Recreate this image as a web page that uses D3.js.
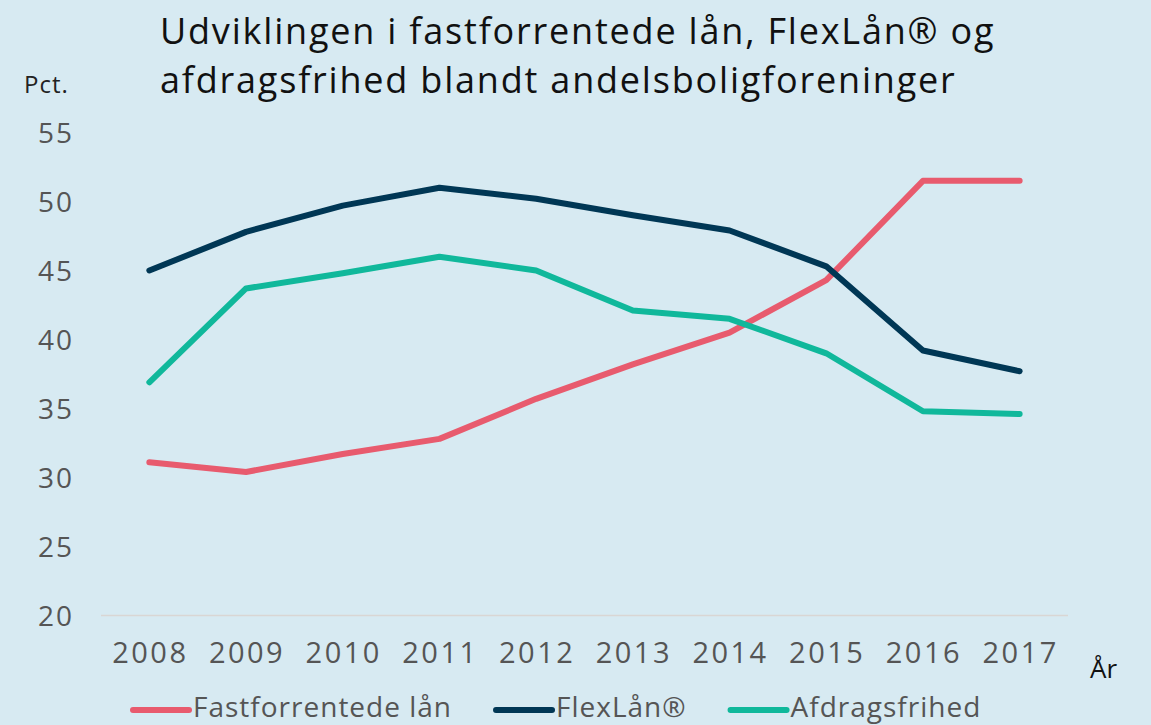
<!DOCTYPE html>
<html>
<head>
<meta charset="utf-8">
<script src="https://cdn.jsdelivr.net/npm/d3@7"></script>
<style>
  body { margin: 0; background: #d7eaf2; }
  svg { display: block; font-family: "Open Sans", Roboto, sans-serif; }
</style>
</head>
<body>
<div id="chart-area"></div>
<script>
const years = ["2008","2009","2010","2011","2012","2013","2014","2015","2016","2017"];
const fastforrentede = [31.1, 30.4, 31.7, 32.8, 35.7, 38.2, 40.5, 44.3, 51.5, 51.5];
const flexlaan = [45.0, 47.8, 49.7, 51.0, 50.2, 49.0, 47.9, 45.3, 39.2, 37.7];
const afdragsfrihed = [36.9, 43.7, 44.8, 46.0, 45.0, 42.1, 41.5, 39.0, 34.8, 34.6];
const yTicks = [20, 25, 30, 35, 40, 45, 50, 55];

const series = [
    {name: "Fastforrentede lån", values: fastforrentede, color: "#e85b6e"},
    {name: "FlexLån®", values: flexlaan, color: "#003755"},
    {name: "Afdragsfrihed", values: afdragsfrihed, color: "#10b89b"}
];

const width = 1151;
const height = 725;

const svg = d3.select("#chart-area")
    .append("svg")
        .attr("width", width)
        .attr("height", height);

svg.append("rect")
    .attr("width", width)
    .attr("height", height)
    .attr("fill", "#d7eaf2");

const x = d3.scaleBand()
    .domain(years)
    .range([101, 1068]);

const y = d3.scaleLinear()
    .domain([20, 55])
    .range([615.5, 132.5]);

// title
const title = svg.append("text")
    .attr("font-size", 36)
    .attr("letter-spacing", 1.8)
    .attr("fill", "#111");
title.append("tspan").attr("x", 160).attr("y", 44).text("Udviklingen i fastforrentede lån, FlexLån® og");
title.append("tspan").attr("x", 160).attr("y", 93).text("afdragsfrihed blandt andelsboligforeninger");

svg.append("text")
    .attr("x", 24)
    .attr("y", 93)
    .attr("font-size", 24)
    .attr("letter-spacing", 1)
    .attr("fill", "#222")
    .text("Pct.");

// y axis labels
svg.selectAll(".ytick")
    .data(yTicks)
    .enter()
    .append("text")
        .attr("class", "ytick")
        .attr("x", 74)
        .attr("y", d => y(d))
        .attr("dy", "0.36em")
        .attr("text-anchor", "end")
        .attr("font-size", 28)
        .attr("letter-spacing", 2)
        .attr("fill", "#555")
        .text(d => d);

// baseline
svg.append("line")
    .attr("x1", x.range()[0])
    .attr("x2", x.range()[1])
    .attr("y1", y(20))
    .attr("y2", y(20))
    .attr("stroke", "#d9d6d4")
    .attr("stroke-width", 1.5);

// x axis labels
svg.selectAll(".xtick")
    .data(years)
    .enter()
    .append("text")
        .attr("class", "xtick")
        .attr("x", d => x(d) + x.bandwidth() / 2 + 1)
        .attr("y", 663)
        .attr("text-anchor", "middle")
        .attr("font-size", 29)
        .attr("letter-spacing", 2.5)
        .attr("fill", "#555")
        .text(d => d);

svg.append("text")
    .attr("x", 1090)
    .attr("y", 678)
    .attr("font-size", 26)
    .attr("fill", "#111")
    .text("År");

const line = d3.line()
    .x((d, i) => x(years[i]) + x.bandwidth() / 2)
    .y(d => y(d));

svg.selectAll(".series")
    .data(series)
    .enter()
    .append("path")
        .attr("class", "series")
        .attr("d", d => line(d.values))
        .attr("fill", "none")
        .attr("stroke", d => d.color)
        .attr("stroke-width", 6)
        .attr("stroke-linecap", "round")
        .attr("stroke-linejoin", "round");

// legend
let lx = 133;
series.forEach(s => {
    const g = svg.append("g");
    g.append("line")
        .attr("x1", lx)
        .attr("x2", lx + 56)
        .attr("y1", 710)
        .attr("y2", 710)
        .attr("stroke", s.color)
        .attr("stroke-width", 6)
        .attr("stroke-linecap", "round");
    const t = g.append("text")
        .attr("x", lx + 60)
        .attr("y", 717)
        .attr("font-size", 28)
        .attr("letter-spacing", 1.0)
        .attr("fill", "#555")
        .text(s.name);
    lx += 60 + t.node().getComputedTextLength() + 44;
});
</script>
</body>
</html>
